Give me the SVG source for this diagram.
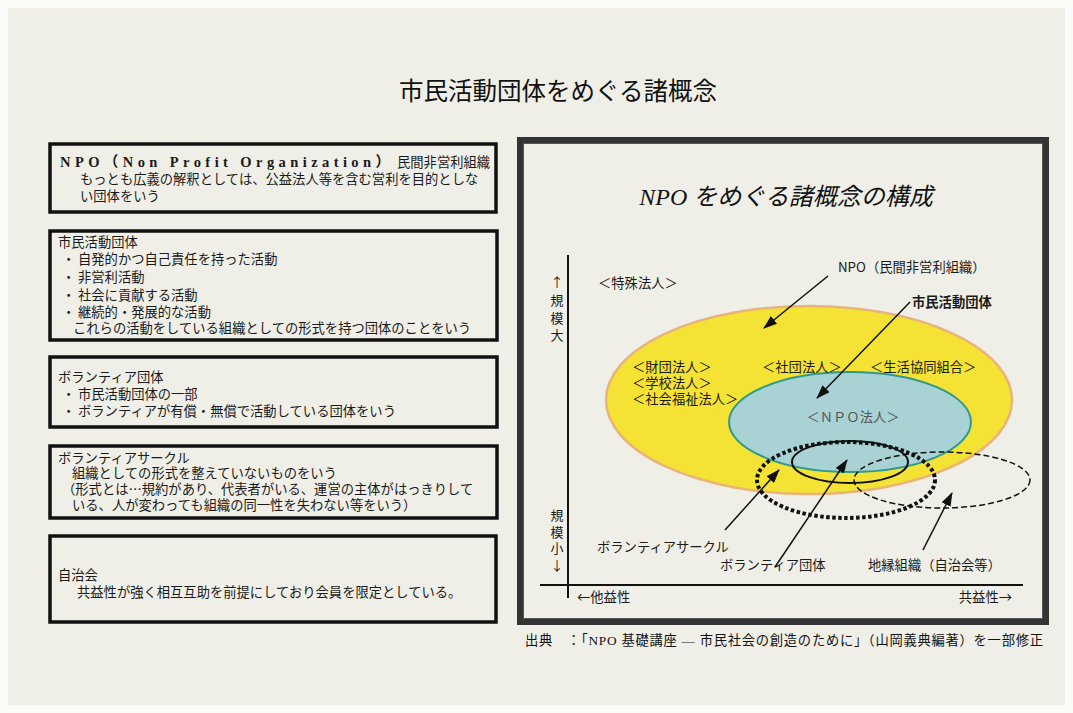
<svg xmlns="http://www.w3.org/2000/svg" width="1073" height="713" viewBox="0 0 1073 713">
<defs>
<style>
.t{font-family:"Noto Sans CJK JP","Noto Sans",sans-serif;font-size:13.3px;fill:#1a1a1a}
.s{font-family:"Liberation Serif","Noto Sans CJK JP",serif;font-size:13.3px;fill:#1a1a1a}
.box{fill:none;stroke:#111;stroke-width:3.5}
.ax{stroke:#111;stroke-width:2;fill:none}
.arr{stroke:#111;stroke-width:1.5;fill:none;marker-end:url(#ah)}
</style>
<marker id="ah" markerUnits="userSpaceOnUse" markerWidth="14" markerHeight="10" viewBox="0 0 14 10" refX="13" refY="5" orient="auto">
<path d="M0,0 L14,5 L0,10 z" fill="#111"/>
</marker>
</defs>
<rect width="1073" height="713" fill="#fbfbf8"/>
<rect x="8" y="8" width="1057" height="697" fill="#efefe7"/>

<text x="558" y="100" text-anchor="middle" style="font-family:'Noto Sans CJK JP',sans-serif;font-size:24.5px;fill:#111">市民活動団体をめぐる諸概念</text>

<g id="box-npo">
<rect class="box" x="50" y="144" width="446" height="68"/>
<text class="s" x="60" y="167" textLength="330" lengthAdjust="spacing" font-weight="bold" style="font-size:14.5px">NPO（Non Profit Organization）</text>
<text class="t" x="397" y="167">民間非営利組織</text>
<text class="t" x="80" y="184">もっとも広義の解釈としては、公益法人等を含む営利を目的としな</text>
<text class="t" x="80" y="201">い団体をいう</text>
</g>

<g id="box-shimin">
<rect class="box" x="50" y="231" width="447" height="109"/>
<text class="t" x="58" y="247">市民活動団体</text>
<text class="t" x="62" y="264">・</text><text class="t" x="78" y="264">自発的かつ自己責任を持った活動</text>
<text class="t" x="62" y="282">・</text><text class="t" x="78" y="282">非営利活動</text>
<text class="t" x="62" y="300">・</text><text class="t" x="78" y="300">社会に貢献する活動</text>
<text class="t" x="62" y="317">・</text><text class="t" x="78" y="317">継続的・発展的な活動</text>
<text class="t" x="73" y="333">これらの活動をしている組織としての形式を持つ団体のことをいう</text>
</g>

<g id="box-volunteer">
<rect class="box" x="50" y="357" width="447" height="70"/>
<text class="t" x="58" y="382">ボランティア団体</text>
<text class="t" x="62" y="399">・</text><text class="t" x="78" y="399">市民活動団体の一部</text>
<text class="t" x="62" y="416">・</text><text class="t" x="78" y="416">ボランティアが有償・無償で活動している団体をいう</text>
</g>

<g id="box-circle">
<rect class="box" x="50" y="446" width="447" height="72"/>
<text class="t" x="58" y="463">ボランティアサークル</text>
<text class="t" x="72" y="478">組織としての形式を整えていないものをいう</text>
<text class="t" x="62" y="494">（形式とは…規約があり、代表者がいる、運営の主体がはっきりして</text>
<text class="t" x="72" y="510">いる、人が変わっても組織の同一性を失わない等をいう）</text>
</g>

<g id="box-jichikai">
<rect class="box" x="50" y="536" width="446" height="86"/>
<text class="t" x="58" y="580">自治会</text>
<text class="t" x="77" y="597">共益性が強く相互互助を前提にしており会員を限定としている。</text>
</g>

<g id="panel">
<rect x="520" y="140" width="526" height="482" fill="none" stroke="#333" stroke-width="6"/>
<rect x="523.5" y="143.5" width="519" height="475" fill="none" stroke="#555" stroke-width="1"/>
<text x="786" y="205" text-anchor="middle" style="font-family:'Liberation Serif','Noto Sans CJK JP',serif;font-style:italic;font-size:24px;fill:#111">NPO をめぐる諸概念の構成</text>
</g>

<g id="axes">
<line class="ax" x1="568" y1="255" x2="568" y2="598"/>
<line class="ax" x1="540" y1="585" x2="1023" y2="585"/>
<g class="t" text-anchor="middle" style="font-size:13px">
<text x="557" y="287">↑</text>
<text x="557" y="305">規</text>
<text x="557" y="323">模</text>
<text x="557" y="340">大</text>
<text x="557" y="520">規</text>
<text x="557" y="537">模</text>
<text x="557" y="553">小</text>
<text x="557" y="570">↓</text>
</g>
<text class="t" x="577" y="602">←他益性</text>
<text class="t" x="1012" y="602" text-anchor="end">共益性→</text>
</g>

<g id="npo-all">
<ellipse cx="809" cy="400" rx="203" ry="94" fill="#f4e334" stroke="#e8b47a" stroke-width="2.5"/>
</g>
<g id="npo-houjin">
<ellipse cx="850" cy="422" rx="121" ry="50" fill="#a9d2d5" stroke="#2e9a8c" stroke-width="2"/>
<text class="t" x="853" y="422" text-anchor="middle" style="fill:#555">＜ＮＰＯ法人＞</text>
</g>
<g id="volunteer-group">
<ellipse cx="850" cy="462" rx="58" ry="21" fill="none" stroke="#111" stroke-width="2"/>
</g>
<g id="volunteer-circle">
<ellipse cx="846" cy="480" rx="89" ry="38" fill="none" stroke="#111" stroke-width="4" stroke-dasharray="3.5 2.5"/>
</g>
<g id="chien">
<ellipse cx="942" cy="480" rx="88" ry="28" fill="none" stroke="#111" stroke-width="1.5" stroke-dasharray="6 3"/>
</g>

<g id="labels">
<text class="t" x="598" y="288">＜特殊法人＞</text>
<text class="t" x="632" y="372">＜財団法人＞</text>
<text class="t" x="632" y="388">＜学校法人＞</text>
<text class="t" x="632" y="404">＜社会福祉法人＞</text>
<text class="t" x="762" y="372">＜社団法人＞</text>
<text class="t" x="870" y="372">＜生活協同組合＞</text>
<text class="t" x="838" y="272">NPO（民間非営利組織）</text>
<text class="t" x="912" y="307" font-weight="bold">市民活動団体</text>
<text class="t" x="597" y="552">ボランティアサークル</text>
<text class="t" x="720" y="570">ボランティア団体</text>
<text class="t" x="868" y="570">地縁組織（自治会等）</text>
</g>

<g id="connectors">
<line class="arr" x1="828" y1="276" x2="764" y2="328"/>
<line class="arr" x1="910" y1="302" x2="817" y2="398"/>
<line class="arr" x1="725" y1="530" x2="779" y2="470"/>
<line class="arr" x1="775" y1="567" x2="847" y2="460"/>
<line class="arr" x1="923" y1="550" x2="952" y2="493"/>
</g>

<text x="525" y="645" textLength="518" lengthAdjust="spacing" style="font-family:'Liberation Serif','Noto Sans CJK JP',serif;font-size:13.3px;fill:#111">出典　：「NPO 基礎講座 ― 市民社会の創造のために」（山岡義典編著）を一部修正</text>
</svg>
